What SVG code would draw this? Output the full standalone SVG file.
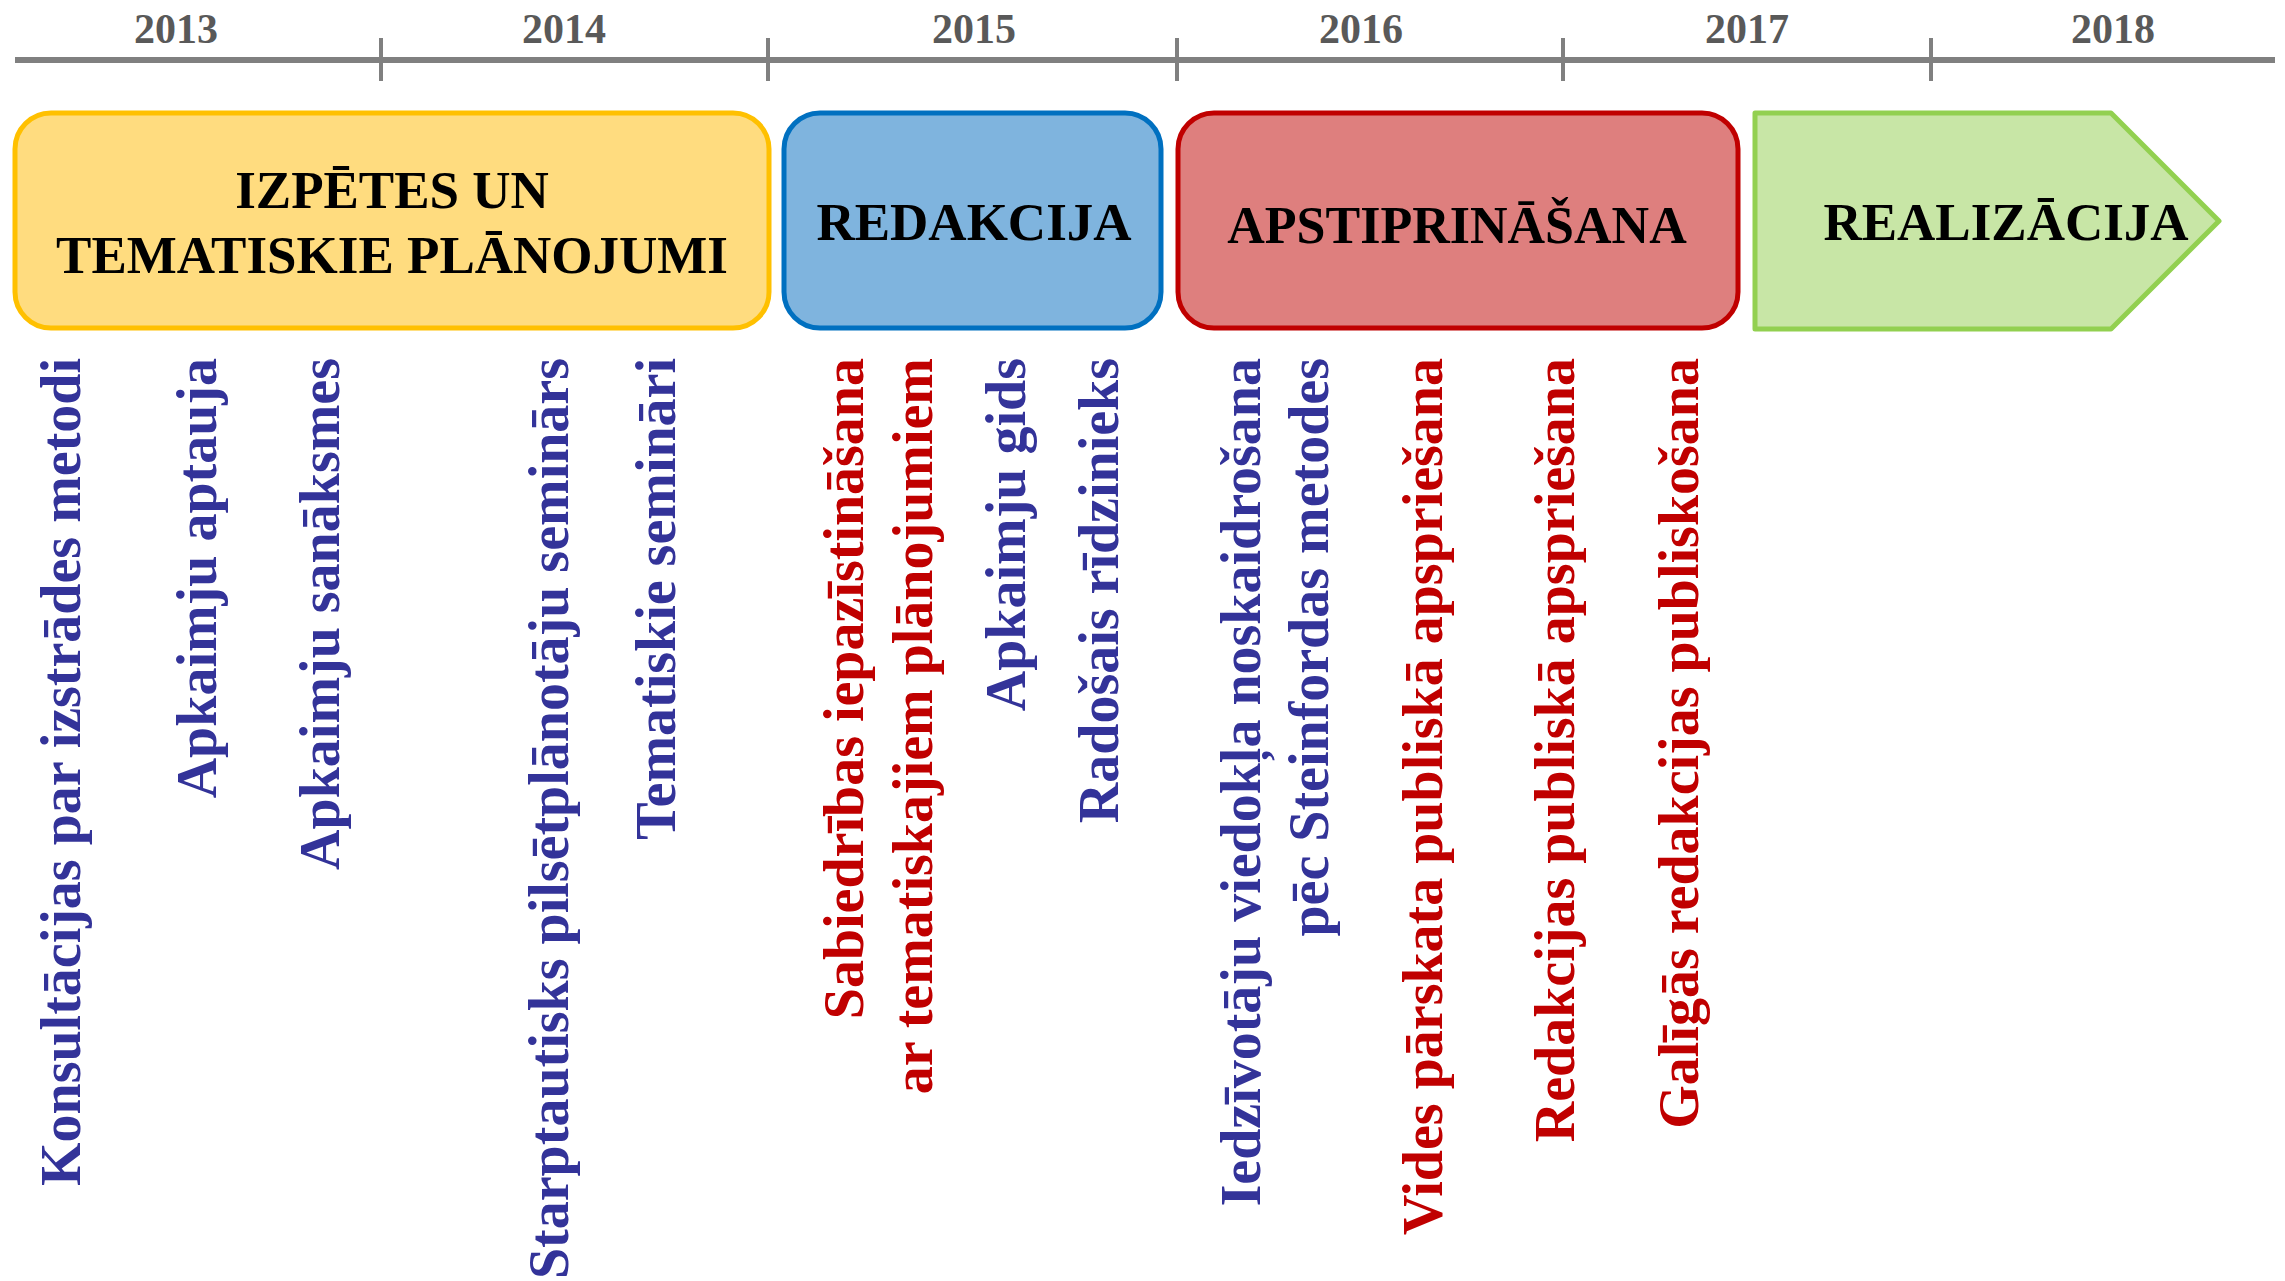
<svg xmlns="http://www.w3.org/2000/svg" width="2285" height="1281" viewBox="0 0 2285 1281">
<style>
.yr{font-family:"Liberation Serif","Times New Roman",serif;font-weight:bold;font-size:42px;fill:#595959;text-anchor:middle}
.ttl{font-family:"Liberation Serif","Times New Roman",serif;font-weight:bold;font-size:53px;fill:#000;text-anchor:middle}
.v{font-family:"Liberation Serif","Times New Roman",serif;font-weight:bold;font-size:56px;text-anchor:end}
.b{fill:#333399}
.r{fill:#C00000}
.tick{stroke:#808080;stroke-width:4}
</style>
<rect width="2285" height="1281" fill="#fff"/>
<g id="axis">
  <line x1="15" y1="60" x2="2275" y2="60" stroke="#808080" stroke-width="6"/>
  <line class="tick" x1="381" y1="38" x2="381" y2="81"/>
  <line class="tick" x1="768" y1="38" x2="768" y2="81"/>
  <line class="tick" x1="1177" y1="38" x2="1177" y2="81"/>
  <line class="tick" x1="1563" y1="38" x2="1563" y2="81"/>
  <line class="tick" x1="1931" y1="38" x2="1931" y2="81"/>
  <text class="yr" x="176" y="43">2013</text>
  <text class="yr" x="564" y="43">2014</text>
  <text class="yr" x="974" y="43">2015</text>
  <text class="yr" x="1361" y="43">2016</text>
  <text class="yr" x="1747" y="43">2017</text>
  <text class="yr" x="2113" y="43">2018</text>
</g>
<g id="connectors"/>
<g id="izpete">
  <rect x="15" y="113" width="754" height="215" rx="36" ry="36" fill="#FFDC7F" stroke="#FFC000" stroke-width="5"/>
  <text class="ttl" x="392" y="208">IZPĒTES UN</text>
  <text class="ttl" x="392" y="273">TEMATISKIE PLĀNOJUMI</text>
</g>
<g id="redakcija">
  <rect x="784" y="113" width="377" height="215" rx="36" ry="36" fill="#7FB4DE" stroke="#0070C0" stroke-width="5"/>
  <text class="ttl" x="974" y="240">REDAKCIJA</text>
</g>
<g id="apstiprinasana">
  <rect x="1178" y="113" width="560" height="215" rx="36" ry="36" fill="#DE7F7E" stroke="#C00000" stroke-width="5"/>
  <text class="ttl" x="1457" y="243" style="font-size:52px">APSTIPRINĀŠANA</text>
</g>
<g id="realizacija">
  <polygon points="1755,113 2111,113 2219,221 2111,329 1755,329" fill="#C8E6A6" stroke="#92D050" stroke-width="5" stroke-linejoin="round"/>
  <text class="ttl" x="2006" y="240">REALIZĀCIJA</text>
</g>
<g id="activities">
  <text class="v b" transform="translate(80,358) rotate(-90)">Konsultācijas par izstrādes metodi</text>
  <text class="v b" transform="translate(216,358) rotate(-90)">Apkaimju aptauja</text>
  <text class="v b" transform="translate(339,358) rotate(-90)">Apkaimju sanāksmes</text>
  <text class="v b" transform="translate(568,358) rotate(-90)">Starptautisks pilsētplānotāju seminārs</text>
  <text class="v b" transform="translate(675,358) rotate(-90)">Tematiskie semināri</text>
  <text class="v r" transform="translate(863,358) rotate(-90)">Sabiedrības iepazīstināšana</text>
  <text class="v r" transform="translate(932,358) rotate(-90)">ar tematiskajiem plānojumiem</text>
  <text class="v b" transform="translate(1025,358) rotate(-90)">Apkaimju gids</text>
  <text class="v b" transform="translate(1118,358) rotate(-90)">Radošais rīdzinieks</text>
  <text class="v b" transform="translate(1260,358) rotate(-90)">Iedzīvotāju viedokļa noskaidrošana</text>
  <text class="v b" transform="translate(1328,358) rotate(-90)">pēc Steinfordas metodes</text>
  <text class="v r" transform="translate(1442,358) rotate(-90)">Vides pārskata publiskā apspriešana</text>
  <text class="v r" transform="translate(1574,358) rotate(-90)">Redakcijas publiskā apspriešana</text>
  <text class="v r" transform="translate(1698,358) rotate(-90)">Galīgās redakcijas publiskošana</text>
</g>
</svg>
